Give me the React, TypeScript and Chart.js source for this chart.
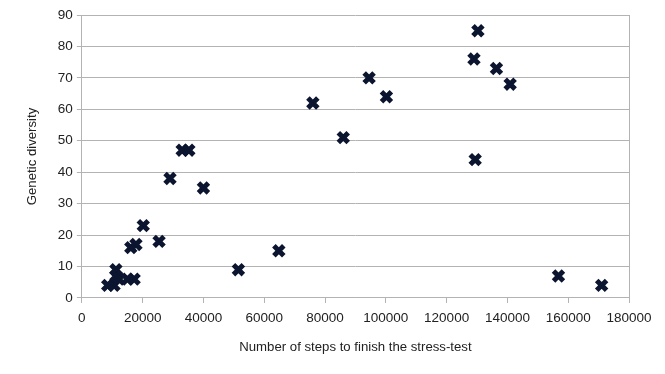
import React, { useEffect, useRef } from "react";
import { Chart, registerables } from "chart.js";

Chart.register(...registerables);

const stepsX: number[] = [
  8500, 10600, 11200, 11200, 12200, 15000, 17200, 16100, 17800, 20200, 25400,
  29000, 33000, 35200, 40000, 51500, 64800, 76000, 86000, 94500, 100200,
  129000, 130300, 129400, 136400, 140900, 156800, 171000,
];
const diversityY: number[] = [
  4, 4, 9, 7, 6, 6, 6, 16, 17, 23, 18, 38, 47, 47, 35, 9, 15, 62, 51, 70, 64,
  76, 85, 44, 73, 68, 7, 4,
];

const xTitle = "Number of steps to finish the stress-test";
const yTitle = "Genetic diversity";

export default function App() {
  const ref = useRef<HTMLCanvasElement | null>(null);
  useEffect(() => {
    if (!ref.current) return;
    const borderPlugin = {
      id: "rightBorder",
      afterDraw(chart: any) {
        const { ctx, chartArea } = chart;
        ctx.save();
        ctx.strokeStyle = "#b3b3b3";
        ctx.lineWidth = 1;
        ctx.beginPath();
        ctx.moveTo(chartArea.right + 0.5, chartArea.top);
        ctx.lineTo(chartArea.right + 0.5, chartArea.bottom);
        ctx.stroke();
        ctx.restore();
      },
    };
    const chart = new Chart(ref.current, {
      type: "scatter",
      data: {
        datasets: [
          {
            data: stepsX.map((x, i) => ({ x, y: diversityY[i] })),
            pointStyle: "crossRot",
            pointRadius: 7,
            pointBorderWidth: 5,
            borderColor: "#0b1530",
            backgroundColor: "#0b1530",
          },
        ],
      },
      options: {
        animation: false,
        responsive: false,
        layout: { padding: { top: 15, right: 36, left: 24, bottom: 19 } },
        plugins: { legend: { display: false }, tooltip: { enabled: false } },
        scales: {
          x: {
            type: "linear",
            min: 0,
            max: 180000,
            ticks: {
              stepSize: 20000,
              color: "#222",
              font: { family: "Liberation Sans", size: 13.5 },
              maxRotation: 0,
              padding: 7,
              callback: (v: any) => String(v),
            },
            grid: {
              display: true,
              drawOnChartArea: false,
              drawTicks: true,
              tickLength: 5,
              color: "#b3b3b3",
            },
            border: { display: true, color: "#b3b3b3" },
            title: {
              display: true,
              text: xTitle,
              color: "#222",
              font: { family: "Liberation Sans", size: 13.2 },
              padding: { top: 6, bottom: 0 },
            },
          },
          y: {
            min: 0,
            max: 90,
            ticks: {
              stepSize: 10,
              color: "#222",
              font: { family: "Liberation Sans", size: 13.5 },
              padding: 4,
            },
            grid: {
              color: "#b3b3b3",
              drawTicks: true,
              tickLength: 5,
            },
            border: { display: true, color: "#b3b3b3" },
            title: {
              display: true,
              text: yTitle,
              color: "#222",
              font: { family: "Liberation Sans", size: 13.2 },
              padding: { top: 0, bottom: 14 },
            },
          },
        },
      },
      plugins: [borderPlugin],
    });
    return () => chart.destroy();
  }, []);
  return (
    <div style={{ position: "fixed", left: 0, top: 0, width: 665, height: 374, background: "#fff" }}>
      <canvas ref={ref} width={665} height={374} style={{ width: 665, height: 374 }} />
    </div>
  );
}
